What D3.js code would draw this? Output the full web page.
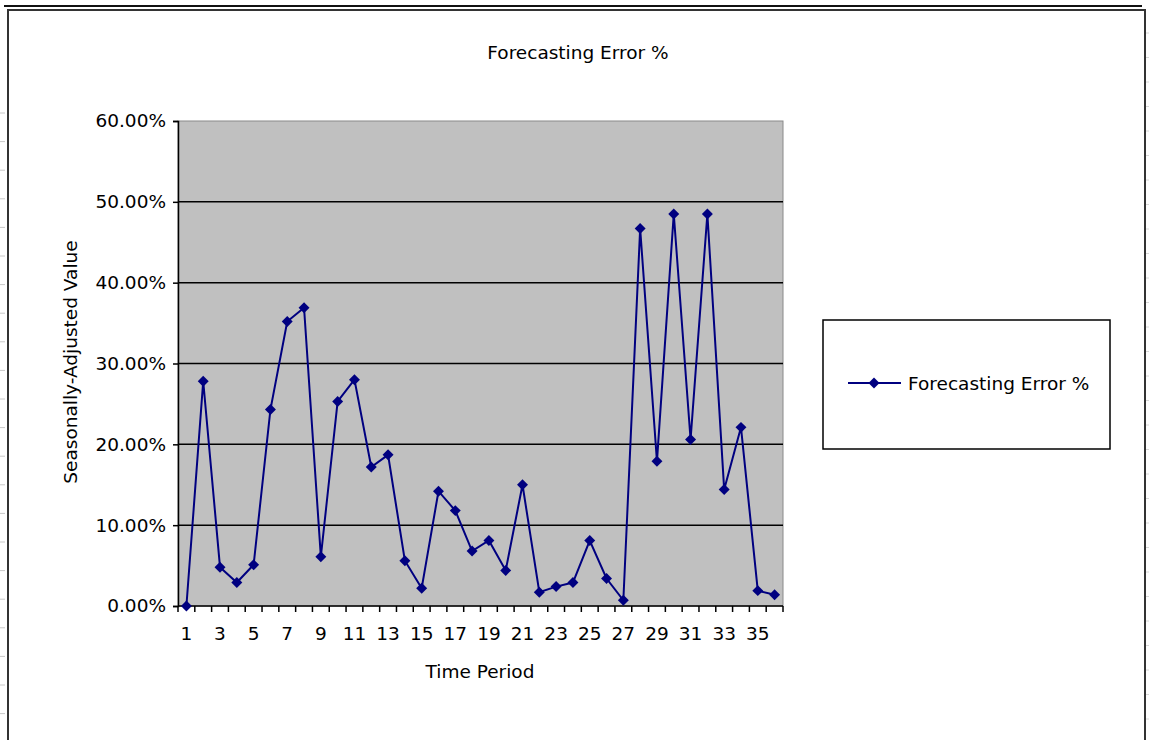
<!DOCTYPE html>
<html>
<head>
<meta charset="utf-8">
<script src="https://cdn.jsdelivr.net/npm/d3@7"></script>
<style>
  html, body { margin: 0; padding: 0; background: #fff; }
  svg text { font-family: "DejaVu Sans", sans-serif; fill: #000; }
</style>
</head>
<body>
<div id="chart"></div>
<script>
/* chart data */
const periods = [1, 2, 3, 4, 5, 6, 7, 8, 9, 10, 11, 12, 13, 14, 15, 16, 17, 18,
  19, 20, 21, 22, 23, 24, 25, 26, 27, 28, 29, 30, 31, 32, 33, 34, 35, 36];
const errorPct = [0.0, 27.8, 4.8, 2.9, 5.1, 24.3, 35.2, 36.9, 6.1, 25.3, 28.0, 17.2,
  18.7, 5.6, 2.2, 14.2, 11.8, 6.8, 8.1, 4.4, 15.0, 1.7, 2.4, 2.9,
  8.1, 3.4, 0.7, 46.7, 17.9, 48.5, 20.6, 48.5, 14.4, 22.1, 1.9, 1.4];
const yTicks = [0, 10, 20, 30, 40, 50, 60];
const xTickLabels = [1, 3, 5, 7, 9, 11, 13, 15, 17, 19, 21, 23, 25, 27, 29, 31, 33, 35];
const seriesName = "Forecasting Error %";

//---------------------------------
/* sizes */
const w = 1149;
const h = 740;
const plot = { left: 178, right: 783, top: 121, bottom: 606 };
const navy = "#000080";
const fontSize = "18.5px";

const svg = d3.select("#chart").append("svg")
  .attr("width", w)
  .attr("height", h);

//---------------------------------
/* spreadsheet frame behind the chart */
const frame = svg.append("g");
d3.range(113, h, 28.6).forEach(y => {
  frame.append("line").attr("x1", 0).attr("x2", 5).attr("y1", y).attr("y2", y)
    .attr("stroke", "#c8c8c8").attr("stroke-width", 1);
});
d3.range(33, h, 24.5).forEach(y => {
  frame.append("line").attr("x1", 1146).attr("x2", 1149).attr("y1", y).attr("y2", y)
    .attr("stroke", "#d8d8d8").attr("stroke-width", 1);
});
frame.append("line").attr("x1", 4).attr("x2", 1142).attr("y1", 6).attr("y2", 6)
  .attr("stroke", "#111").attr("stroke-width", 2);
frame.append("path")
  .attr("d", `M8,${h} V10 H1145 V${h}`)
  .attr("fill", "none").attr("stroke", "#333").attr("stroke-width", 2);

//---------------------------------
/* scales */
const x = d3.scaleBand()
  .domain(periods)
  .range([plot.left, plot.right])
  .padding(0);

const y = d3.scaleLinear()
  .domain([0, 60])
  .range([plot.bottom, plot.top]);

//---------------------------------
/* plot area */
svg.append("rect")
  .attr("x", plot.left).attr("y", plot.top)
  .attr("width", plot.right - plot.left).attr("height", plot.bottom - plot.top)
  .attr("fill", "#c0c0c0")
  .attr("stroke", "#8a8a8a").attr("stroke-width", 1);

svg.append("g")
  .selectAll("line")
  .data(yTicks.filter(d => d > 0 && d < 60)).enter()
  .append("line")
  .attr("x1", plot.left).attr("x2", plot.right)
  .attr("y1", d => y(d)).attr("y2", d => y(d))
  .attr("stroke", "#000").attr("stroke-width", 1.5);

//---------------------------------
/* y axis */
const yAxis = d3.axisLeft(y)
  .tickValues(yTicks)
  .tickSize(5)
  .tickPadding(7)
  .tickFormat(d => d.toFixed(2) + "%");
const yG = svg.append("g")
  .attr("transform", `translate(${plot.left},0)`)
  .call(yAxis);
yG.select(".domain").attr("stroke", "#000").attr("stroke-width", 1.5);
yG.selectAll(".tick line").attr("stroke", "#000").attr("stroke-width", 1.5);
yG.selectAll(".tick text").style("font-size", fontSize).attr("font-family", null);

//---------------------------------
/* x axis: ticks on category boundaries, labels on odd periods */
const xG = svg.append("g")
  .attr("transform", `translate(0,${plot.bottom})`);
xG.append("line")
  .attr("x1", plot.left).attr("x2", plot.right)
  .attr("stroke", "#000").attr("stroke-width", 1.5);
xG.selectAll(".bound")
  .data(periods.concat([null])).enter()
  .append("line")
  .attr("class", "bound")
  .attr("x1", (d, i) => plot.left + i * x.step())
  .attr("x2", (d, i) => plot.left + i * x.step())
  .attr("y1", 0).attr("y2", 6)
  .attr("stroke", "#000").attr("stroke-width", 1.5);

const xAxis = d3.axisBottom(x)
  .tickValues(xTickLabels)
  .tickSize(0)
  .tickPadding(21);
const xLab = svg.append("g")
  .attr("transform", `translate(0,${plot.bottom})`)
  .call(xAxis);
xLab.select(".domain").remove();
xLab.selectAll(".tick text").style("font-size", fontSize).attr("font-family", null);

//---------------------------------
/* titles */
svg.append("text")
  .attr("x", 578).attr("y", 59)
  .attr("text-anchor", "middle")
  .style("font-size", fontSize)
  .text("Forecasting Error %");

svg.append("text")
  .attr("x", 480).attr("y", 678)
  .attr("text-anchor", "middle")
  .style("font-size", fontSize)
  .text("Time Period");

svg.append("text")
  .attr("transform", "translate(77,362) rotate(-90)")
  .attr("text-anchor", "middle")
  .style("font-size", fontSize)
  .text("Seasonally-Adjusted Value");

//---------------------------------
/* series line + diamond markers */
const cx = d => x(d.period) + x.bandwidth() / 2;
const series = periods.map((p, i) => ({ period: p, value: errorPct[i] }));

const line = d3.line()
  .x(cx)
  .y(d => y(d.value));

svg.append("path")
  .datum(series)
  .attr("d", line)
  .attr("fill", "none")
  .attr("stroke", navy)
  .attr("stroke-width", 2);

const diamond = d3.symbol().type(d3.symbolSquare).size(60);

svg.append("g")
  .selectAll("path")
  .data(series).enter()
  .append("path")
  .attr("d", diamond)
  .attr("transform", d => `translate(${cx(d)},${y(d.value)}) rotate(45)`)
  .attr("fill", navy);

//---------------------------------
/* legend */
const legend = svg.append("g");
legend.append("rect")
  .attr("x", 823).attr("y", 320)
  .attr("width", 287).attr("height", 129)
  .attr("fill", "#fff")
  .attr("stroke", "#000").attr("stroke-width", 1.5);
legend.append("line")
  .attr("x1", 848).attr("x2", 901).attr("y1", 383).attr("y2", 383)
  .attr("stroke", navy).attr("stroke-width", 2);
legend.append("path")
  .attr("d", diamond)
  .attr("transform", "translate(874,383) rotate(45)")
  .attr("fill", navy);
legend.append("text")
  .attr("x", 908).attr("y", 390)
  .style("font-size", fontSize)
  .text(seriesName);
</script>
</body>
</html>
